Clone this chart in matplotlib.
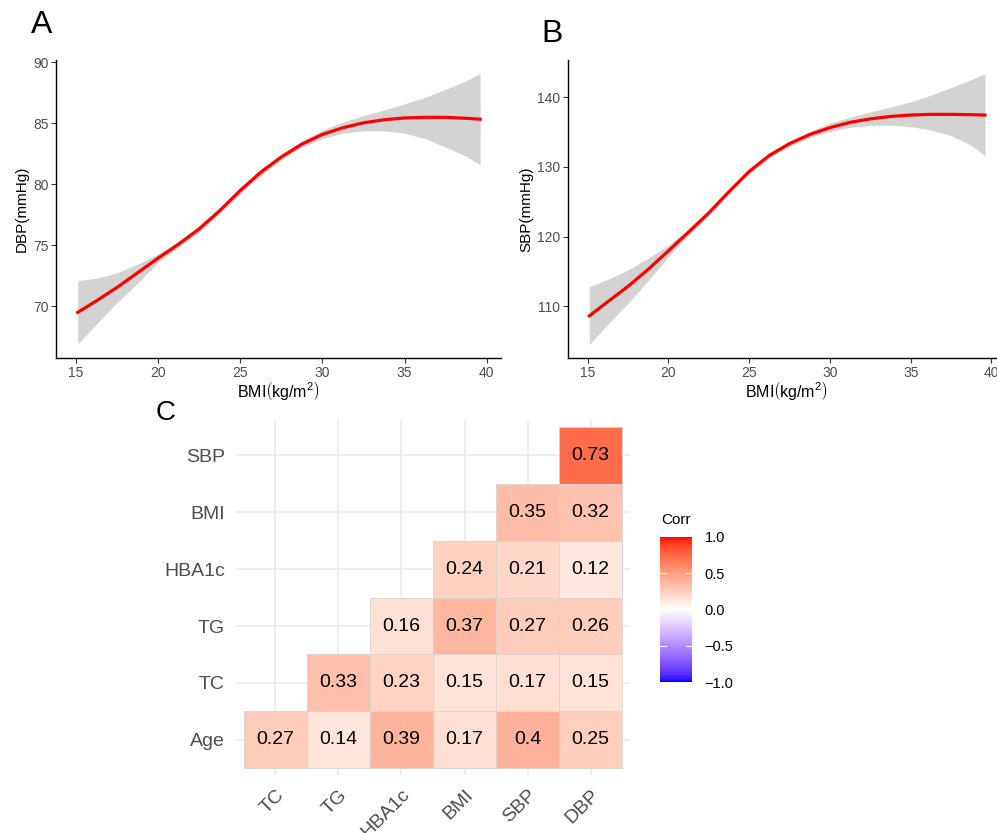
import matplotlib
matplotlib.use("Agg")
import matplotlib.pyplot as plt
import numpy as np
from matplotlib.colors import ListedColormap, Normalize
from matplotlib.cm import ScalarMappable
from matplotlib.patches import Rectangle

plt.rcParams["font.family"] = ["Liberation Sans", "DejaVu Sans"]
plt.rcParams["mathtext.fontset"] = "custom"
plt.rcParams["mathtext.rm"] = "Liberation Sans"
plt.rcParams["mathtext.it"] = "Liberation Sans:italic"

# ---- data: smoothed BMI vs blood pressure ----
bmi = [15.1, 16.25, 17.5, 18.75, 20, 21.25, 22.5, 23.75, 25, 26.25, 27.5,
       28.75, 30, 31.25, 32.5, 33.75, 35, 36.25, 37.5, 38.75, 39.6]

dbp_fit = [69.5, 70.45, 71.55, 72.75, 73.95, 75.1, 76.35, 77.85, 79.5, 81.0, 82.25,
           83.3, 84.1, 84.65, 85.05, 85.3, 85.45, 85.5, 85.5, 85.42, 85.35]
dbp_hi = [72.1, 72.3, 72.75, 73.45, 74.3, 75.35, 76.6, 78.1, 79.75, 81.25, 82.5,
          83.55, 84.45, 85.1, 85.65, 86.1, 86.6, 87.15, 87.8, 88.5, 89.1]
dbp_lo = [66.9, 68.55, 70.3, 71.9, 73.6, 74.85, 76.1, 77.6, 79.25, 80.75, 82.0,
          83.05, 83.75, 84.2, 84.4, 84.4, 84.2, 83.75, 83.05, 82.3, 81.6]

sbp_fit = [108.6, 110.65, 112.85, 115.3, 117.95, 120.65, 123.4, 126.45, 129.35, 131.65, 133.35,
           134.65, 135.65, 136.4, 136.9, 137.25, 137.45, 137.55, 137.55, 137.5, 137.45]
sbp_hi = [112.8, 113.85, 115.2, 116.9, 118.75, 121.1, 123.75, 126.75, 129.7, 132.0, 133.7,
          135.1, 136.3, 137.15, 137.9, 138.6, 139.35, 140.3, 141.4, 142.55, 143.4]
sbp_lo = [104.5, 107.4, 110.4, 113.7, 117.1, 120.2, 123.05, 126.15, 129.0, 131.3, 132.95,
          134.2, 135.1, 135.7, 135.95, 136.0, 135.8, 135.3, 134.5, 133.1, 131.6]

# ---- data: correlation matrix (rows bottom -> top) ----
col_names = ["TC", "TG", "HBA1c", "BMI", "SBP", "DBP"]
row_names = ["Age", "TC", "TG", "HBA1c", "BMI", "SBP"]
corr = np.array([
    [0.27, 0.14, 0.39, 0.17, 0.40, 0.25],
    [np.nan, 0.33, 0.23, 0.15, 0.17, 0.15],
    [np.nan, np.nan, 0.16, 0.37, 0.27, 0.26],
    [np.nan, np.nan, np.nan, 0.24, 0.21, 0.12],
    [np.nan, np.nan, np.nan, np.nan, 0.35, 0.32],
    [np.nan, np.nan, np.nan, np.nan, np.nan, 0.73],
])


# blue - white - red gradient interpolated in Lab space (like ggplot gradient2)
def lab_to_rgb(lab):
    L, a, b = lab[:, 0], lab[:, 1], lab[:, 2]
    fy = (L + 16) / 116
    fx = fy + a / 500
    fz = fy - b / 200
    finv = lambda t: np.where(t > 6 / 29, t ** 3, 3 * (6 / 29) ** 2 * (t - 4 / 29))
    xyz = np.stack([0.95047 * finv(fx), finv(fy), 1.08883 * finv(fz)], axis=1)
    m = np.array([[3.2406, -1.5372, -0.4986],
                  [-0.9689, 1.8758, 0.0415],
                  [0.0557, -0.2040, 1.0570]])
    rgb = xyz @ m.T
    rgb = np.where(rgb <= 0.0031308, 12.92 * rgb, 1.055 * np.clip(rgb, 0, None) ** (1 / 2.4) - 0.055)
    return np.clip(rgb, 0, 1)

lab_blue = np.array([32.30, 79.19, -107.86])
lab_white = np.array([100.0, 0.0, 0.0])
lab_red = np.array([53.24, 80.09, 67.20])
t = np.linspace(-1, 1, 256)[:, None]
labs = np.where(t < 0, lab_white + (lab_blue - lab_white) * (-t), lab_white + (lab_red - lab_white) * t)
cmap = ListedColormap(lab_to_rgb(labs))
norm = Normalize(-1, 1)

fig = plt.figure(figsize=(9.97, 8.33), dpi=100)

tick_gray = "#4d4d4d"
xlab = r"BMI$\left(\mathrm{kg/m^2}\right)$"


def smooth_panel(ax, x, fit, lo, hi, ylabel, ylim, yticks):
    ax.fill_between(x, lo, hi, color="#d3d3d3", lw=0)
    ax.plot(x, fit, color="red", lw=2.3, solid_joinstyle="round")
    ax.set_xlim(13.78, 40.85)
    ax.set_ylim(*ylim)
    ax.set_xticks([15, 20, 25, 30, 35, 40])
    ax.set_yticks(yticks)
    for s in ["top", "right"]:
        ax.spines[s].set_visible(False)
    for s in ["left", "bottom"]:
        ax.spines[s].set_linewidth(1.0)
        ax.spines[s].set_color("black")
    ax.tick_params(length=3.5, width=0.8, color="#333333", labelcolor=tick_gray, labelsize=10, pad=2)
    ax.set_xlabel(xlab, fontsize=11.5, labelpad=0)
    ax.set_ylabel(ylabel, fontsize=11, labelpad=3)


axA = fig.add_axes([0.0562, 0.5702, 0.446, 0.3577])
smooth_panel(axA, bmi, dbp_fit, dbp_lo, dbp_hi, "DBP(mmHg)", (65.75, 90.2), [70, 75, 80, 85, 90])
axB = fig.add_axes([0.5697, 0.5702, 0.4385, 0.3577])
smooth_panel(axB, bmi, sbp_fit, sbp_lo, sbp_hi, "SBP(mmHg)", (102.55, 145.35), [110, 120, 130, 140])

fig.text(42 / 997, 1 - 25 / 833, "A", fontsize=23, ha="center", va="center")
fig.text(552 / 997, 1 - 34 / 833, "B", fontsize=23, ha="center", va="center")
fig.text(166 / 997, 1 - 413 / 833, "C", fontsize=20, ha="center", va="center")

# ---- heatmap (lower triangle only) ----
axC = fig.add_axes([0.2367, 0.0696, 0.3952, 0.4262])
for i in range(len(row_names)):
    for j in range(len(col_names)):
        v = corr[i, j]
        if np.isnan(v):
            continue
        axC.add_patch(Rectangle((j - 0.5, i - 0.5), 1, 1, facecolor=cmap(norm(v)),
                                edgecolor="#dcd2cf", lw=0.6, zorder=2))
        axC.text(j, i, f"{v:g}", ha="center", va="center", fontsize=14, color="black", zorder=3)
axC.set_xlim(-0.625, len(col_names) - 0.375)
axC.set_ylim(-0.615, len(row_names) - 0.385)
axC.set_xticks(range(len(col_names)))
axC.set_xticklabels(col_names, rotation=45, ha="right", va="top", rotation_mode="anchor")
axC.set_yticks(range(len(row_names)))
axC.set_yticklabels(row_names)
axC.set_axisbelow(True)
axC.grid(True, color="#ebebeb", lw=1.2, zorder=0)
for s in axC.spines.values():
    s.set_visible(False)
axC.tick_params(length=0, labelsize=14, labelcolor=tick_gray, pad=8)

# ---- colour bar ----
cax = fig.add_axes([660 / 997, 1 - 682 / 833, 32 / 997, 145 / 833])
cb = fig.colorbar(ScalarMappable(norm=norm, cmap=cmap), cax=cax)
cb.outline.set_visible(False)
cb.set_ticks([-1, -0.5, 0, 0.5, 1])
cb.set_ticklabels(["\u22121.0", "\u22120.5", "0.0", "0.5", "1.0"])
cax.tick_params(length=0, labelcolor="black", labelsize=10.5, pad=9)
for yv in [-0.5, 0, 0.5]:
    cax.plot([0, 0.2], [yv, yv], color="white", lw=0.8, transform=cax.get_yaxis_transform())
    cax.plot([0.8, 1], [yv, yv], color="white", lw=0.8, transform=cax.get_yaxis_transform())
fig.text(661 / 997, 1 - 520 / 833, "Corr", fontsize=11, ha="left", va="center")

fig.savefig("out.png", dpi=100)
